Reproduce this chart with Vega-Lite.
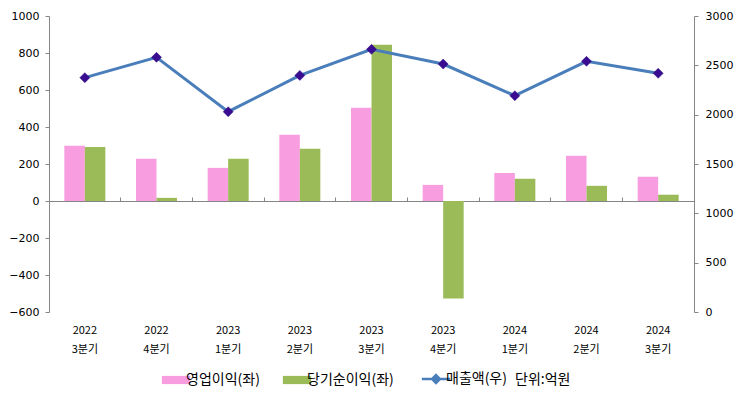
{
  "$schema": "https://vega.github.io/schema/vega-lite/v6.json",
  "width": 645,
  "height": 296,
  "autosize": {"type": "none"},
  "padding": {"left": 49, "top": 16, "right": 49, "bottom": 91},
  "config": {
    "view": {"stroke": null},
    "font": "Noto Sans CJK KR",
    "axis": {
      "domainColor": "#868686",
      "tickColor": "#868686",
      "labelColor": "#000000",
      "grid": false,
      "title": null
    }
  },
  "datasets": {
    "bars": [
      {"quarter": "2022 3분기", "series": "영업이익(좌)", "value": 298},
      {"quarter": "2022 3분기", "series": "당기순이익(좌)", "value": 292},
      {"quarter": "2022 4분기", "series": "영업이익(좌)", "value": 228},
      {"quarter": "2022 4분기", "series": "당기순이익(좌)", "value": 17},
      {"quarter": "2023 1분기", "series": "영업이익(좌)", "value": 179},
      {"quarter": "2023 1분기", "series": "당기순이익(좌)", "value": 229},
      {"quarter": "2023 2분기", "series": "영업이익(좌)", "value": 358},
      {"quarter": "2023 2분기", "series": "당기순이익(좌)", "value": 282},
      {"quarter": "2023 3분기", "series": "영업이익(좌)", "value": 504},
      {"quarter": "2023 3분기", "series": "당기순이익(좌)", "value": 844},
      {"quarter": "2023 4분기", "series": "영업이익(좌)", "value": 87},
      {"quarter": "2023 4분기", "series": "당기순이익(좌)", "value": -527},
      {"quarter": "2024 1분기", "series": "영업이익(좌)", "value": 152},
      {"quarter": "2024 1분기", "series": "당기순이익(좌)", "value": 120},
      {"quarter": "2024 2분기", "series": "영업이익(좌)", "value": 244},
      {"quarter": "2024 2분기", "series": "당기순이익(좌)", "value": 82},
      {"quarter": "2024 3분기", "series": "영업이익(좌)", "value": 131},
      {"quarter": "2024 3분기", "series": "당기순이익(좌)", "value": 34}
    ],
    "sales": [
      {"quarter": "2022 3분기", "sales": 2375},
      {"quarter": "2022 4분기", "sales": 2581},
      {"quarter": "2023 1분기", "sales": 2030},
      {"quarter": "2023 2분기", "sales": 2398},
      {"quarter": "2023 3분기", "sales": 2662},
      {"quarter": "2023 4분기", "sales": 2513},
      {"quarter": "2024 1분기", "sales": 2192},
      {"quarter": "2024 2분기", "sales": 2541},
      {"quarter": "2024 3분기", "sales": 2419}
    ]
  },
  "layer": [
    {
      "data": {"name": "bars"},
      "mark": {"type": "bar"},
      "encoding": {
        "x": {
          "field": "quarter",
          "type": "nominal",
          "sort": null,
          "scale": {"paddingInner": 0, "paddingOuter": 0},
          "axis": {
            "labelExpr": "split(datum.label, ' ')",
            "ticks": false,
            "domain": false,
            "labelAngle": 0,
            "labelPadding": 12,
            "labelLineHeight": 19,
            "labelFontSize": 11,
            "labelBaseline": "top"
          }
        },
        "xOffset": {
          "field": "series",
          "type": "nominal",
          "sort": ["영업이익(좌)", "당기순이익(좌)"],
          "scale": {"paddingOuter": 0.748, "paddingInner": 0}
        },
        "y": {
          "field": "value",
          "type": "quantitative",
          "scale": {"domain": [-600, 1000], "nice": false, "zero": false},
          "axis": {
            "values": [-600, -400, -200, 0, 200, 400, 600, 800, 1000],
            "format": "d",
            "tickSize": 4,
            "labelPadding": 6,
            "labelFont": "DejaVu Sans",
            "labelFontSize": 11
          }
        },
        "color": {
          "field": "series",
          "type": "nominal",
          "scale": {
            "domain": ["영업이익(좌)", "당기순이익(좌)", "매출액(우)"],
            "range": ["#F89DE0", "#9BBB59", "#4A7EBB"]
          },
          "legend": {
            "orient": "none",
            "legendX": 120,
            "legendY": 356,
            "direction": "horizontal",
            "title": "단위:억원",
            "titleOrient": "right",
            "titleFontSize": 14,
            "titleFontWeight": "normal",
            "titleColor": "#000000",
            "titlePadding": 8,
            "titleBaseline": "middle",
            "labelFontSize": 14,
            "labelColor": "#000000",
            "labelOffset": 3,
            "columnPadding": 22,
            "symbolSize": 800,
            "encode": {
              "symbols": {
                "update": {
                  "shape": {"signal": "datum.value === '매출액(우)' ? 'M-1,0H-0.28M0.28,0H1M0,-0.28L0.28,0L0,0.28L-0.28,0Z' : 'M-1,-0.29H1V0.29H-1Z'"},
                  "fill": {"signal": "datum.value === '매출액(우)' ? '#3A0C91' : (datum.value === '영업이익(좌)' ? '#F89DE0' : '#9BBB59')"},
                  "stroke": {"signal": "datum.value === '매출액(우)' ? '#4A7EBB' : 'transparent'"},
                  "strokeWidth": {"signal": "datum.value === '매출액(우)' ? 2.5 : 0"},
                  "opacity": {"value": 1}
                }
              }
            }
          }
        }
      }
    },
    {
      "data": {"name": "sales"},
      "encoding": {
        "x": {
          "field": "quarter",
          "type": "nominal",
          "sort": null,
          "axis": {
            "labels": false,
            "ticks": true,
            "tickSize": 4,
            "bandPosition": 0,
            "domain": true,
            "offset": -185
          }
        },
        "y": {
          "field": "sales",
          "type": "quantitative",
          "scale": {"domain": [0, 3000], "nice": false},
          "axis": {
            "orient": "right",
            "values": [0, 500, 1000, 1500, 2000, 2500, 3000],
            "format": "d",
            "tickSize": 4,
            "labelPadding": 7,
            "labelFont": "DejaVu Sans",
            "labelFontSize": 11
          }
        }
      },
      "layer": [
        {
          "mark": {"type": "line", "strokeWidth": 3},
          "encoding": {"color": {"datum": "매출액(우)"}}
        },
        {
          "mark": {"type": "point", "shape": "diamond", "filled": true, "size": 100, "color": "#3A0C91", "opacity": 1, "stroke": "#2A0A80", "strokeWidth": 0.5}
        }
      ]
    }
  ],
  "resolve": {"scale": {"y": "independent"}, "axis": {"x": "independent"}}
}
